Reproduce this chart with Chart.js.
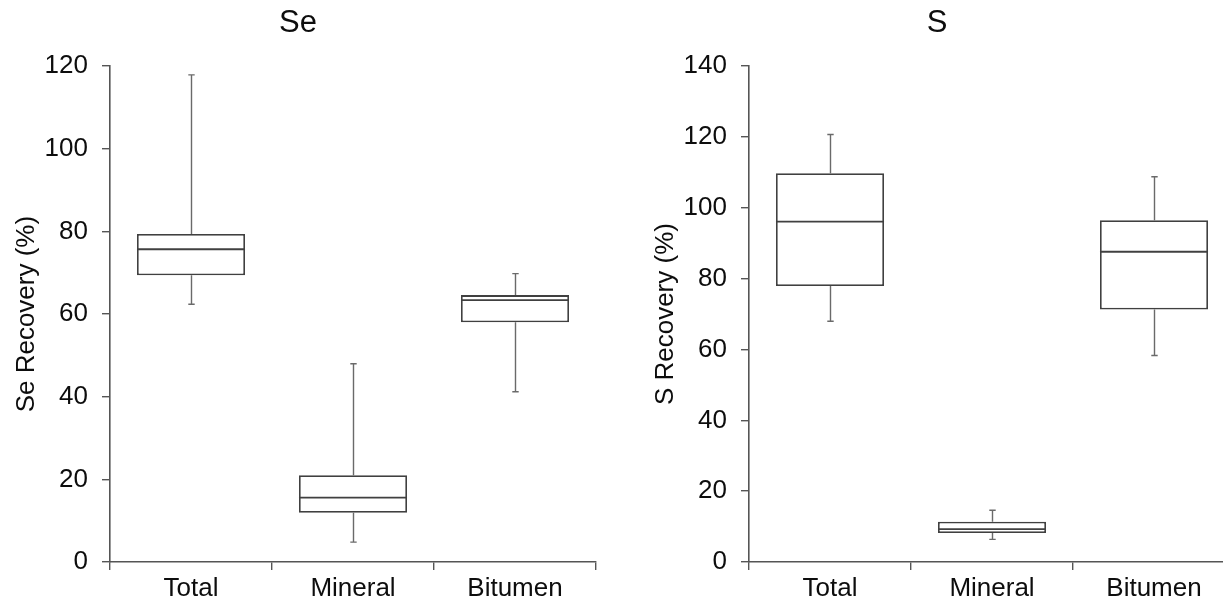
<!DOCTYPE html>
<html>
<head>
<meta charset="utf-8">
<script src="https://cdn.jsdelivr.net/npm/chart.js@4/dist/chart.umd.min.js"></script>
<style>
  html, body { margin: 0; padding: 0; background: #fff; }
  #wrap { position: relative; width: 1223px; height: 602px; overflow: hidden; background: #fff; }
  .panel { position: absolute; top: 0; width: 600px; height: 602px; }
  #panelSe { left: 0; }
  #panelS { left: 639px; }
</style>
</head>
<body>
<div id="wrap">
  <div class="panel" id="panelSe"><canvas id="chartSe" width="600" height="602"></canvas></div>
  <div class="panel" id="panelS"><canvas id="chartS" width="600" height="602"></canvas></div>
</div>
<script>
// Sample fractions on the category axis
const categories = ['Total', 'Mineral', 'Bitumen'];

// Se recovery (%) box statistics
const seMin    = [62.4, 4.8, 41.2];
const seQ1     = [69.4, 11.9, 58.0];
const seMedian = [75.7, 15.6, 63.4];
const seQ3     = [79.4, 21.0, 64.6];
const seMax    = [117.9, 48.0, 69.8];
const seTicks  = [0, 20, 40, 60, 80, 100, 120];

// S recovery (%) box statistics
const sMin    = [68.0, 6.4, 58.3];
const sQ1     = [77.9, 8.2, 71.3];
const sMedian = [96.1, 9.3, 87.6];
const sQ3     = [109.8, 11.4, 96.5];
const sMax    = [120.7, 14.6, 108.8];
const sTicks  = [0, 20, 40, 60, 80, 100, 120, 140];

const FONT = "'Liberation Sans', Arial, Helvetica, sans-serif";
const TEXT = '#0d0d0d';
const AXIS = '#555555';
const BOX = '#404040';
const WHISKER = '#6a6a6a';

// Whiskers are drawn under the boxes, medians on top of them
const boxPlotPlugin = {
  id: 'boxPlot',
  beforeDatasetsDraw(chart) {
    const st = chart.options.plugins.boxPlot;
    const x = chart.scales.x, y = chart.scales.y;
    const ctx = chart.ctx;
    ctx.save();
    ctx.strokeStyle = WHISKER;
    ctx.lineWidth = 1.4;
    const cap = 3.2;
    st.min.forEach((lo, i) => {
      const cx = Math.round(x.getPixelForValue(i)) + 0.5;
      const yMin = y.getPixelForValue(lo), yQ1 = y.getPixelForValue(st.q1[i]);
      const yQ3 = y.getPixelForValue(st.q3[i]), yMax = y.getPixelForValue(st.max[i]);
      ctx.beginPath();
      ctx.moveTo(cx, yQ3); ctx.lineTo(cx, yMax);
      ctx.moveTo(cx - cap, yMax); ctx.lineTo(cx + cap, yMax);
      ctx.moveTo(cx, yQ1); ctx.lineTo(cx, yMin);
      ctx.moveTo(cx - cap, yMin); ctx.lineTo(cx + cap, yMin);
      ctx.stroke();
    });
    ctx.restore();
  },
  afterDatasetsDraw(chart) {
    const st = chart.options.plugins.boxPlot;
    const y = chart.scales.y;
    const meta = chart.getDatasetMeta(0);
    const ctx = chart.ctx;
    ctx.save();
    ctx.strokeStyle = BOX;
    ctx.lineWidth = 1.8;
    meta.data.forEach((bar, i) => {
      const half = bar.width / 2;
      const ym = y.getPixelForValue(st.median[i]);
      ctx.beginPath();
      ctx.moveTo(bar.x - half, ym);
      ctx.lineTo(bar.x + half, ym);
      ctx.stroke();
    });
    ctx.restore();
  }
};

function makeChart(id, title, yTitle, mins, q1s, medians, q3s, maxs, ticks) {
  const yMax = ticks[ticks.length - 1];
  return new Chart(document.getElementById(id), {
    type: 'bar',
    data: {
      labels: categories,
      datasets: [{
        data: q1s.map((q, i) => [q, q3s[i]]),
        backgroundColor: '#ffffff',
        borderColor: BOX,
        borderWidth: 1.8,
        borderSkipped: false,
        categoryPercentage: 1,
        barPercentage: 0.667
      }]
    },
    options: {
      responsive: false,
      devicePixelRatio: 1,
      animation: false,
      layout: { padding: { left: 0, right: 4, top: 0, bottom: 0 } },
      plugins: {
        legend: { display: false },
        tooltip: { enabled: false },
        title: {
          display: true,
          text: title,
          color: TEXT,
          font: { family: FONT, size: 31, weight: 'normal', lineHeight: 1.2 },
          padding: { top: 5, bottom: 24 }
        },
        boxPlot: { min: mins, q1: q1s, median: medians, q3: q3s, max: maxs }
      },
      scales: {
        x: {
          type: 'category',
          offset: true,
          grid: { offset: true, drawOnChartArea: false, tickLength: 8, color: AXIS, lineWidth: 1.4 },
          border: { color: AXIS, width: 1.6 },
          ticks: { color: TEXT, font: { family: FONT, size: 26 }, padding: 3, maxRotation: 0 },
          afterFit(scale) { scale.height = 40; }
        },
        y: {
          min: 0,
          max: yMax,
          afterBuildTicks(scale) { scale.ticks = ticks.map(v => ({ value: v })); },
          grid: { drawOnChartArea: false, tickLength: 8, color: AXIS, lineWidth: 1.4 },
          border: { color: AXIS, width: 1.6 },
          ticks: { color: TEXT, font: { family: FONT, size: 26 }, padding: 14 },
          title: {
            display: true,
            text: yTitle,
            color: TEXT,
            font: { family: FONT, size: 26 },
            padding: { top: 11, bottom: 0 }
          },
          afterFit(scale) { scale.width = 110; }
        }
      }
    },
    plugins: [boxPlotPlugin]
  });
}

makeChart('chartSe', 'Se', 'Se Recovery (%)', seMin, seQ1, seMedian, seQ3, seMax, seTicks);
makeChart('chartS', 'S', 'S Recovery (%)', sMin, sQ1, sMedian, sQ3, sMax, sTicks);
</script>
</body>
</html>
